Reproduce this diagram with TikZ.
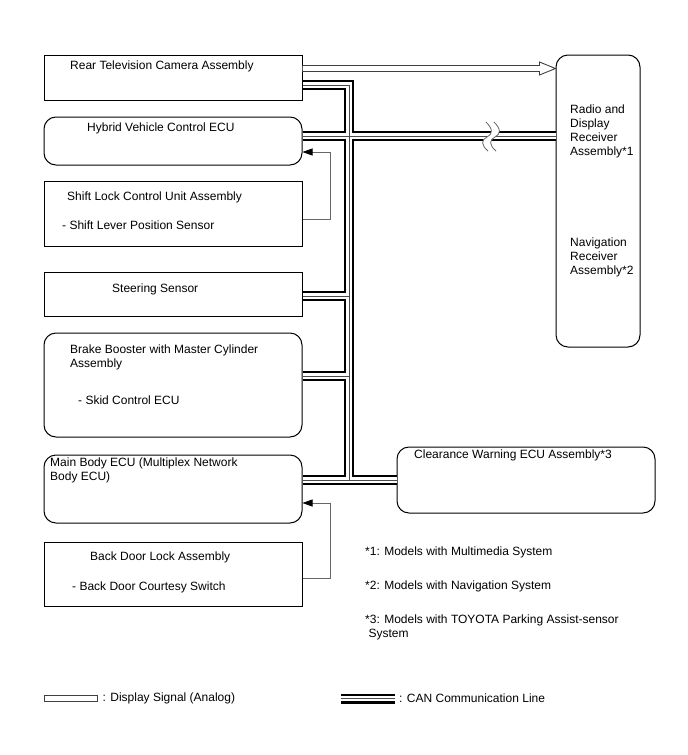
\documentclass[tikz,border=0pt]{standalone}
\usepackage{fontspec}
\setmainfont{Liberation Sans}
\usepackage{tikz}
\usetikzlibrary{arrows.meta, calc}
\tikzset{
  sqbox/.style={rectangle, draw=black, line width=1pt, fill=white,
                minimum width=258pt, inner sep=0pt},
  rdbox/.style={sqbox, rounded corners=12pt},
  txt/.style={anchor=west, inner sep=0pt, align=left,
              font=\fontsize{12}{14}\selectfont},
  canouter/.style={draw=black, line width=10pt},
  caninner/.style={draw=white, line width=5.4pt},
  cancore/.style={draw=black!70, line width=0.9pt},
  fbarrow/.style={draw=black!60, line width=0.8pt,
                  -{Triangle[length=10pt, width=7pt, color=black]}},
  displine/.style={draw=black!75, line width=0.9pt, fill=white, line join=miter},
}

\begin{document}
\begin{tikzpicture}[x=1pt, y=-1pt]

\useasboundingbox[fill=white] (0,0) rectangle (688,755);

% ── left column ──────────────────────────────────────────────────────────────
\node[sqbox, minimum height=45] (cam) at (173,77.5) {};
\node[rdbox, minimum height=48] (hv)  at (173,141) {};
\node[sqbox, minimum height=65] (sl)  at (173,213.5) {};
\node[sqbox, minimum height=44] (st)  at (173,294) {};
\node[rdbox, minimum height=104] (bb) at (173,385) {};
\node[rdbox, minimum height=68] (mb)  at (173,489) {};
\node[sqbox, minimum height=64] (bd)  at (173,574) {};

\node[txt] (camtxt) at (70,66)  {Rear Television Camera Assembly};
\node[txt] (hvtxt)  at (87,128) {Hybrid Vehicle Control ECU};
\node[txt] (sltxt)  at (67,197) {Shift Lock Control Unit Assembly};
\node[txt] (slsub)  at (62,225) {- Shift Lever Position Sensor};
\node[txt] (sttxt)  at (112,289) {Steering Sensor};
\node[txt] (bbtxt)  at (70,357) {Brake Booster with Master Cylinder\\Assembly};
\node[txt] (bbsub)  at (78,400) {- Skid Control ECU};
\node[txt] (mbtxt)  at (50,470) {Main Body ECU (Multiplex Network\\Body ECU)};
\node[txt] (bdtxt)  at (90,557) {Back Door Lock Assembly};
\node[txt] (bdsub)  at (72,587) {- Back Door Courtesy Switch};

% ── right column ─────────────────────────────────────────────────────────────
\node[rdbox, minimum width=84, minimum height=292] (radio) at (598,201) {};
\node[txt] (radiotxt) at (570,131.5) {Radio and\\Display\\Receiver\\Assembly*1};
\node[txt] (navtxt)   at (570,257) {Navigation\\Receiver\\Assembly*2};

\node[rdbox, minimum height=66] (cw) at (526,480) {};
\node[txt] (cwtxt) at (414,455) {Clearance Warning ECU Assembly*3};

% ── display signal (analog) ──────────────────────────────────────────────────
\coordinate (ds0) at ([yshift=9pt]cam.east);
\coordinate (ds1) at (ds0 -| radio.west);
\draw[displine] ([yshift=3pt]ds0) -- ([xshift=-16pt,yshift=3pt]ds1)
  -- ([xshift=-16pt,yshift=6.5pt]ds1) -- (ds1)
  -- ([xshift=-16pt,yshift=-6.5pt]ds1) -- ([xshift=-16pt,yshift=-3pt]ds1)
  -- ([yshift=-3pt]ds0);

% ── CAN lines (outer, gap, core) ─────────────────────────────────────────────
\coordinate (jtop) at (349,85);
\coordinate (jbot) at (349,480);
\coordinate (canl) at (341,698.5);
\coordinate (canr) at (395,698.5);
\foreach \layer in {canouter, caninner, cancore}{
  \draw[\layer] ([yshift=-7.5pt]cam.east) -- (jtop) -- (jbot);
  \draw[\layer] ([yshift=5pt]hv.east) coordinate (hvc) -- (hvc -| radio.west);
  \draw[\layer] ([yshift=-2pt]st.east) coordinate (stc) -- (stc -| jtop);
  \draw[\layer] ([yshift=9pt]bb.east) coordinate (bbc) -- (bbc -| jtop);
  \draw[\layer] ([yshift=9pt]mb.east) -- (cw.west);
  \draw[\layer] (canl) -- (canr);
}

% break mark on the radio line
\fill[white] (486,122) .. controls (493,129) and (493,134) .. (487,137)
  .. controls (481,140) and (481,145) .. (488,151) -- (496,151)
  .. controls (489,145) and (489,140) .. (495,137)
  .. controls (501,134) and (501,129) .. (494,122) -- cycle;
\draw[black!60, line width=0.8pt] (486,122) .. controls (493,129) and (493,134) .. (487,137)
  .. controls (481,140) and (481,145) .. (488,151);
\draw[black!60, line width=0.8pt] (494,122) .. controls (501,129) and (501,134) .. (495,137)
  .. controls (489,140) and (489,145) .. (496,151);

% ── direct signal lines ──────────────────────────────────────────────────────
\draw[fbarrow] ([yshift=-5.5pt]sl.east) -- ++(28,0) |- ([yshift=-11pt]hv.east);
\draw[fbarrow] ([yshift=-4.5pt]bd.east) -- ++(28,0) |- ([yshift=-14pt]mb.east);

% ── notes ────────────────────────────────────────────────────────────────────
\node[txt] (note1) at (365,552) {*1: Models with Multimedia System};
\node[txt] (note2) at (365,586) {*2: Models with Navigation System};
\node[txt] (note3) at (365,627) {*3: Models with TOYOTA Parking Assist-sensor\\\ System};

% ── legend ───────────────────────────────────────────────────────────────────
\node[draw=black!75, line width=0.8pt, minimum width=53, minimum height=6.5,
      inner sep=0pt] (dleg) at (70.5,698.5) {};
\node[txt] (dlegtxt) at ([xshift=5pt]dleg.east) {: Display Signal (Analog)};
\node[txt] (canlegtxt) at ([xshift=4pt]canr) {: CAN Communication Line};

\end{tikzpicture}
\end{document}
